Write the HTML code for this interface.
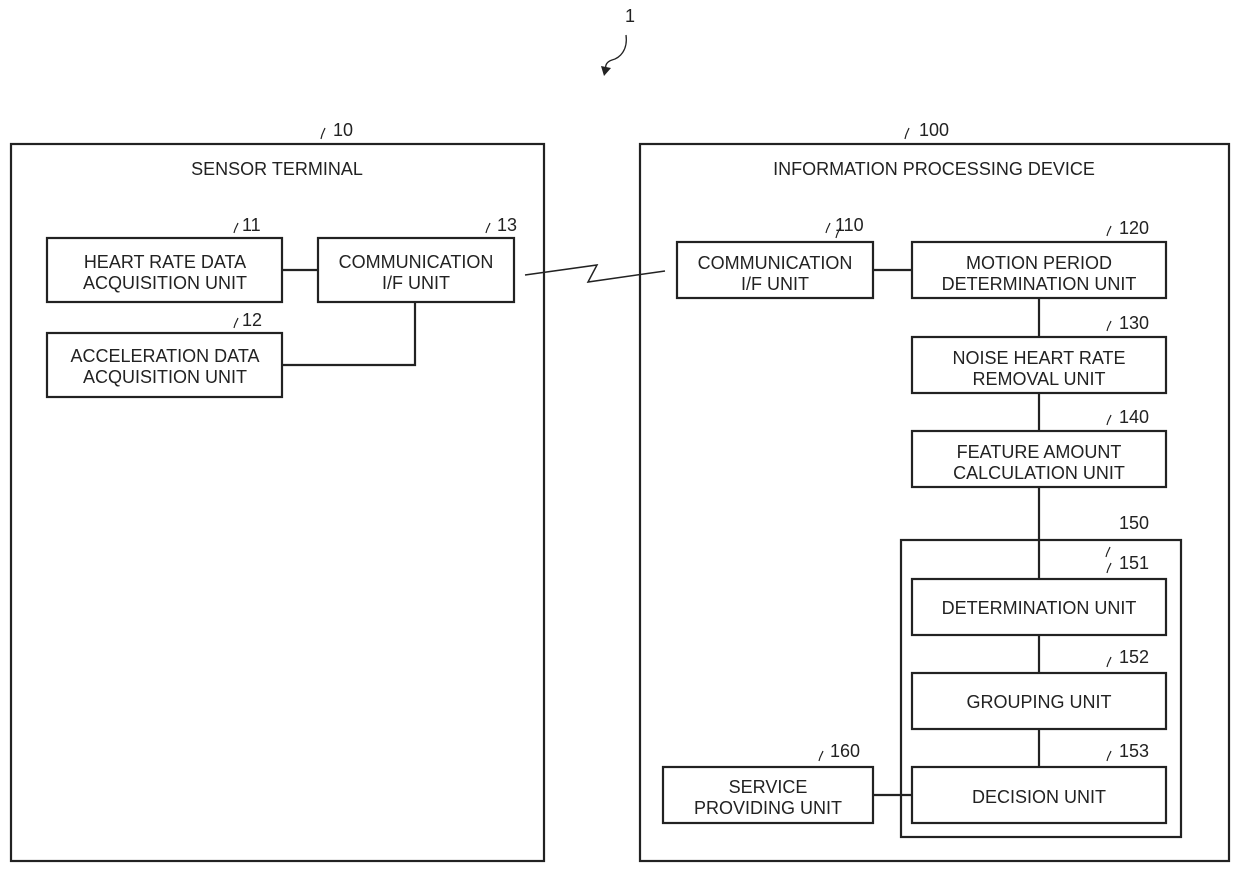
<!DOCTYPE html>
<html><head><meta charset="utf-8"><style>
html,body{margin:0;padding:0;background:#fff;}
svg{display:block;}
text{font-family:"Liberation Sans",sans-serif;font-size:18px;fill:#222;}
</style></head><body>
<svg width="1240" height="874" viewBox="0 0 1240 874" xmlns="http://www.w3.org/2000/svg">
<g fill="none" stroke="#222" stroke-width="2.2">
<rect x="11" y="144" width="533" height="717"/>
<rect x="640" y="144" width="589" height="717"/>
<rect x="47" y="238" width="235" height="64"/>
<rect x="318" y="238" width="196" height="64"/>
<rect x="47" y="333" width="235" height="64"/>
<rect x="677" y="242" width="196" height="56"/>
<rect x="912" y="242" width="254" height="56"/>
<rect x="912" y="337" width="254" height="56"/>
<rect x="912" y="431" width="254" height="56"/>
<rect x="901" y="540" width="280" height="297"/>
<rect x="912" y="579" width="254" height="56"/>
<rect x="912" y="673" width="254" height="56"/>
<rect x="912" y="767" width="254" height="56"/>
<rect x="663" y="767" width="210" height="56"/>
<path d="M282 270H318M415 302V365H282M873 270H912M1039 298V337M1039 393V431M1039 487V579M1039 635V673M1039 729V767M873 795H912"/>
<path d="M525 275L597 265L588 282L665 271" stroke-width="1.5"/>
<path d="M626 35C628 50 620 58 612 60C606 62 605 66 606 70" stroke-width="1.3"/>
<path d="M321 139C322 133 324 131 325 128M836 238C837 233 839 231 840 228M1106 557C1107 552 1109 550 1110 547M905 139C906 133 908 131 909 128M234 233C235 228 237 226 238 223M234 328C235 323 237 321 238 318M486 233C487 228 489 226 490 223M826 233C827 228 829 226 830 223M1107 236C1108 231 1110 229 1111 226M1107 331C1108 326 1110 324 1111 321M1107 425C1108 420 1110 418 1111 415M1107 573C1108 568 1110 566 1111 563M1107 667C1108 662 1110 660 1111 657M1107 761C1108 756 1110 754 1111 751M819 761C820 756 822 754 823 751" stroke-width="1.2"/>
</g>
<path d="M601 66L611 68L604 76Z" fill="#222"/>
<text x="625" y="22" font-size="16">1</text>
<text x="333" y="136">10</text>
<text x="919" y="136">100</text>
<text x="242" y="231">11</text>
<text x="242" y="326">12</text>
<text x="497" y="231">13</text>
<text x="835" y="231">110</text>
<text x="1119" y="234">120</text>
<text x="1119" y="329">130</text>
<text x="1119" y="423">140</text>
<text x="1119" y="529">150</text>
<text x="1119" y="569">151</text>
<text x="1119" y="663">152</text>
<text x="1119" y="757">153</text>
<text x="830" y="757">160</text>
<g text-anchor="middle">
<text x="277" y="175">SENSOR TERMINAL</text>
<text x="934" y="175">INFORMATION PROCESSING DEVICE</text>
<text x="165" y="268">HEART RATE DATA</text>
<text x="165" y="289">ACQUISITION UNIT</text>
<text x="416" y="268">COMMUNICATION</text>
<text x="416" y="289">I/F UNIT</text>
<text x="165" y="362">ACCELERATION DATA</text>
<text x="165" y="383">ACQUISITION UNIT</text>
<text x="775" y="269">COMMUNICATION</text>
<text x="775" y="290">I/F UNIT</text>
<text x="1039" y="269">MOTION PERIOD</text>
<text x="1039" y="290">DETERMINATION UNIT</text>
<text x="1039" y="364">NOISE HEART RATE</text>
<text x="1039" y="385">REMOVAL UNIT</text>
<text x="1039" y="458">FEATURE AMOUNT</text>
<text x="1039" y="479">CALCULATION UNIT</text>
<text x="1039" y="614">DETERMINATION UNIT</text>
<text x="1039" y="708">GROUPING UNIT</text>
<text x="1039" y="803">DECISION UNIT</text>
<text x="768" y="793">SERVICE</text>
<text x="768" y="814">PROVIDING UNIT</text>
</g>
</svg>
</body></html>
